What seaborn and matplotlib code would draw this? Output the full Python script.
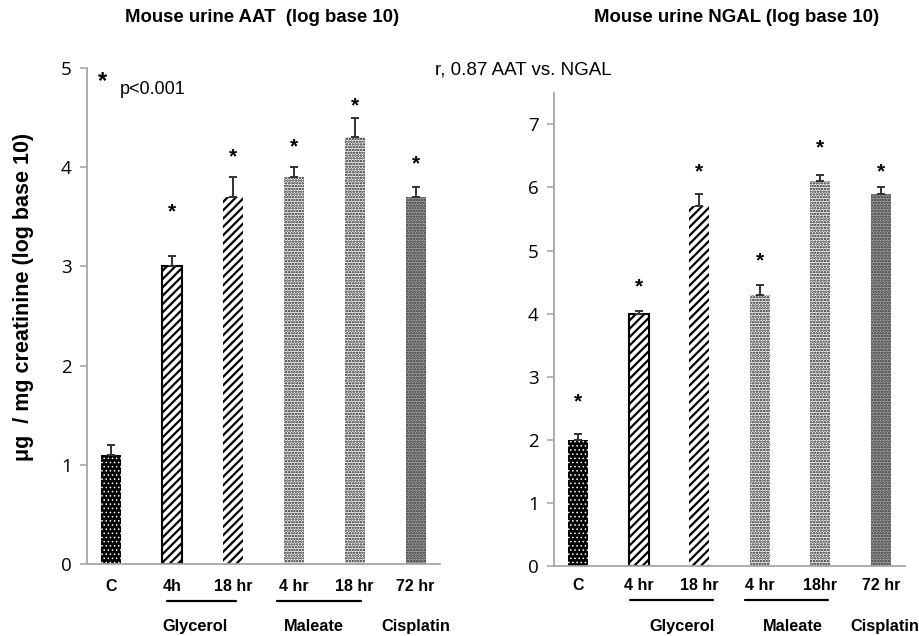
import numpy as np
import pandas as pd
import matplotlib
matplotlib.use("Agg")
import matplotlib.pyplot as plt
import seaborn as sns

sns.set_style("white")
plt.rcParams['font.family'] = ['Liberation Sans', 'DejaVu Sans']
plt.rcParams['text.color'] = 'black'
plt.rcParams['hatch.linewidth'] = 1.5

# --------------------------
# Data
# --------------------------
bar_ids = ["C", "G4", "G18", "M4", "M18", "P72"]
aat_labels = ["C", "4h", "18 hr", "4 hr", "18 hr", "72 hr"]
ngal_labels = ["C", "4 hr", "18 hr", "4 hr", "18hr", "72 hr"]

aat_mean = [1.1, 3.0, 3.7, 3.9, 4.3, 3.7]
aat_err = [0.1, 0.1, 0.2, 0.1, 0.2, 0.1]
aat_star = [None, 3.55, 4.1, 4.2, 4.62, 4.03]

ngal_mean = [2.0, 4.0, 5.7, 4.3, 6.1, 5.9]
ngal_err = [0.1, 0.05, 0.2, 0.15, 0.1, 0.1]
ngal_star = [2.6, 4.42, 6.25, 4.83, 6.63, 6.25]

groups = ["Glycerol", "Maleate", "Cisplatin"]

# bar fill styles: (face, hatch, hatch colour, hatch width, outline)
styles = [
    ("black", "....", "white", 0.6, None),
    ("white", "////", "black", 1.6, "black"),
    ("white", "////", "black", 1.6, None),
    ("white", "......", "#111111", 1.2, None),
    ("white", "......", "#111111", 1.2, None),
    ("#a3a3a3", "......", "#333333", 1.2, None),
]

AXIS_GRAY = "#a6a6a6"


def draw_panel(ax, means, errs, stars, labels, ymax, ticks,
               lines, group_x, y_lab, y_line, y_grp):
    df = pd.DataFrame({"cond": bar_ids, "val": means})
    sns.barplot(data=df, x="cond", y="val", order=bar_ids, width=0.33,
                color="white", ax=ax)
    for p, (face, hatch, hcol, hlw, edge) in zip(ax.patches, styles):
        p.set_facecolor(face)
        p.set_hatch(hatch)
        p.set_edgecolor(hcol)
        p.set_linewidth(0)
        if hasattr(p, "set_hatch_linewidth"):
            p.set_hatch_linewidth(hlw)
        if edge is not None:
            p.set_edgecolor(edge)
            p.set_linewidth(1.5)
    x = np.arange(len(means))
    ax.errorbar(x, means, yerr=[np.zeros(len(errs)), errs], fmt="none",
                ecolor="#333333", elinewidth=1.4, capsize=3, capthick=1.4)
    for xi, s in zip(x, stars):
        if s is not None:
            ax.text(xi, s, "*", ha="center", va="center", fontsize=15,
                    fontweight="bold")

    ax.set_xlim(-0.4, 5.4)
    ax.set_ylim(0, ymax)
    ax.set_yticks(ticks)
    ax.set_yticklabels([str(t) for t in ticks], family="Open Sans",
                       fontsize=13.5, color="black")
    ax.set_xticks([])
    ax.set_xlabel("")
    ax.set_ylabel("")
    ax.tick_params(axis="y", length=5, width=1.2, color=AXIS_GRAY, pad=6,
                   left=True)
    for side in ["top", "right"]:
        ax.spines[side].set_visible(False)
    for side in ["left", "bottom"]:
        ax.spines[side].set_color(AXIS_GRAY)
        ax.spines[side].set_linewidth(1.3)

    tr = ax.get_xaxis_transform()
    for xi, lab in zip(x, labels):
        ax.text(xi, y_lab, lab, transform=tr, ha="center", va="center",
                fontsize=11.5, fontweight="bold", clip_on=False)
    for x0, x1 in lines:
        ax.plot([x0, x1], [y_line, y_line], transform=tr, color="black",
                lw=1.6, clip_on=False)
    for gx, g in zip(group_x, groups):
        ax.text(gx, y_grp, g, transform=tr, ha="center", va="center",
                fontsize=11.8, fontweight="bold", clip_on=False)


fig = plt.figure(figsize=(9.19, 6.36), dpi=100)
ax1 = fig.add_axes([0.0947, 0.1132, 0.384, 0.780])
ax2 = fig.add_axes([0.6028, 0.110, 0.382, 0.744])

draw_panel(ax1, aat_mean, aat_err, aat_star, aat_labels, 5, [0, 1, 2, 3, 4, 5],
           [(0.92, 2.05), (2.72, 4.11)], [1.38, 3.33, 5.0],
           -0.045, -0.075, -0.125)
draw_panel(ax2, ngal_mean, ngal_err, ngal_star, ngal_labels, 7.5,
           [0, 1, 2, 3, 4, 5, 6, 7],
           [(0.86, 2.22), (2.76, 4.12)], [1.72, 3.54, 5.07],
           -0.042, -0.072, -0.127)

fig.text(0.285, 0.972, "Mouse urine AAT  (log base 10)", ha="center",
         va="center", fontsize=13.4, fontweight="bold")
fig.text(0.802, 0.972, "Mouse urine NGAL (log base 10)", ha="center",
         va="center", fontsize=13.4, fontweight="bold")
fig.text(0.473, 0.890, "r, 0.87 AAT vs. NGAL", ha="left", va="center",
         fontsize=13.5)
fig.text(0.112, 0.872, "*", ha="center", va="center", fontsize=17,
         fontweight="bold")
fig.text(0.1306, 0.859, "p<0.001", ha="left", va="center", fontsize=13)
fig.text(0.026, 0.533, "\u03bcg  / mg creatinine (log base 10)",
         rotation=90, ha="center", va="center", fontsize=15.5,
         fontweight="bold")

fig.savefig("out.png", dpi=100)
